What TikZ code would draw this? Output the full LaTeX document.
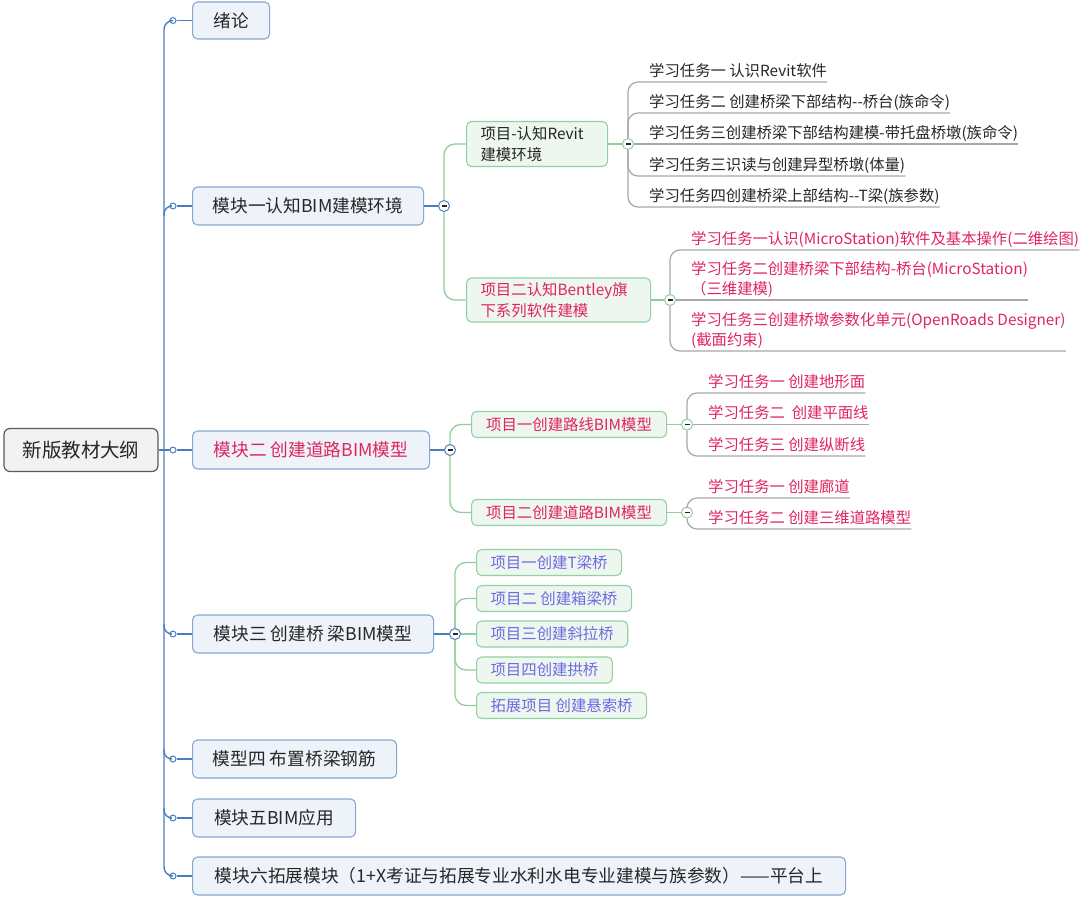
\documentclass[tikz,border=0pt]{standalone}
\usepackage{fontspec}
\setmainfont{Noto Sans CJK SC}
\usepackage{xcolor}
\usetikzlibrary{positioning,calc}

\definecolor{trunkblue}{HTML}{4A7EC0}
\definecolor{modedge}{HTML}{86A9D4}
\definecolor{modfill}{HTML}{EEF3FA}
\definecolor{projedge}{HTML}{95D0A3}
\definecolor{projfill}{HTML}{EEF6F0}
\definecolor{branchgreen}{HTML}{8FCE9E}
\definecolor{leafgray}{HTML}{A8A8A8}
\definecolor{rootedge}{HTML}{5A5A5A}
\definecolor{rootfill}{HTML}{F2F2F2}
\definecolor{inkdark}{HTML}{262626}
\definecolor{inkred}{HTML}{E0255E}
\definecolor{inkpurple}{HTML}{6B6BE0}

\tikzset{
  rootbox/.style={draw=rootedge, fill=rootfill, rounded corners=6pt, line width=1.2pt,
    minimum width=154pt, minimum height=43pt, text=inkdark, font=\fontsize{19.5}{22}\selectfont},
  modbox/.style={draw=modedge, fill=modfill, rounded corners=5pt, line width=1.1pt,
    minimum height=38pt, inner xsep=20pt, anchor=west, text=inkdark, font=\fontsize{17.7}{20}\selectfont},
  projbox/.style={draw=projedge, fill=projfill, rounded corners=5pt, line width=1.1pt,
    minimum height=26pt, inner xsep=14pt, anchor=west, align=left, text=inkdark, font=\fontsize{15.4}{21}\selectfont},
  task/.style={anchor=south west, inner xsep=0pt, inner ysep=2pt, text depth=3.5pt,
    align=left, text=inkdark, font=\fontsize{15.35}{20}\selectfont},
  knob/.style={circle, draw=trunkblue, fill=white, line width=1pt, inner sep=0pt, minimum size=6pt},
  fold/.style={circle, draw=#1, fill=white, line width=1pt, inner sep=0pt, minimum size=11pt,
    path picture={\draw[line width=1.3pt, inkdark] ([xshift=-2.5pt]path picture bounding box.center)
      -- ([xshift=2.5pt]path picture bounding box.center);}},
  trunk/.style={draw=trunkblue, line width=1.4pt},
  twig/.style={draw=branchgreen, line width=1.3pt, rounded corners=11pt},
  leaf/.style={draw=leafgray, line width=1.2pt, rounded corners=10pt},
}

\begin{document}
\begin{tikzpicture}[x=1pt, y=-1pt]
    \fill[white] (0,0) rectangle (1081,899);
    \useasboundingbox (0,0) rectangle (1081,899);

    % root and modules
    \node[rootbox] (root) at (81,450) {新版教材大纲};
    \coordinate (tk) at (164,0);

    \node[modbox, minimum width=77pt, minimum height=37pt] (m0) at (192,20.5) {绪论};
    \node[modbox, minimum width=231pt] (m1) at (192,206) {模块一认知BIM建模环境};
    \node[modbox, minimum width=237pt, text=inkred] (m2) at (192,450) {模块二 创建道路BIM模型};
    \node[modbox, minimum width=241pt] (m3) at (192,634) {模块三 创建桥 梁BIM模型};
    \node[modbox, minimum width=204pt] (m4) at (192,759) {模型四 布置桥梁钢筋};
    \node[modbox, minimum width=163pt] (m5) at (192,818) {模块五BIM应用};
    \node[modbox, minimum width=653pt] (m6) at (192,876) {模块六拓展模块（1+X考证与拓展专业水利水电专业建模与族参数）——平台上};

    \node[knob] (d0) at (173,20.5) {};
    \node[knob] (d1) at (173,206) {};
    \node[knob] (d2) at (173,450) {};
    \node[knob] (d3) at (173,634) {};
    \node[knob] (d4) at (173,759) {};
    \node[knob] (d5) at (173,818) {};
    \node[knob] (d6) at (173,876) {};

    \node[fold=trunkblue] (f1) at (444,206) {};
    \node[fold=trunkblue] (f2) at (450,450) {};
    \node[fold=trunkblue] (f3) at (455,634) {};

    % projects
    \node[projbox, text width=113pt, minimum height=45pt] (p11) at (466,144) {项目-认知Revit\\建模环境};
    \node[projbox, text width=156pt, minimum height=44pt, text=inkred] (p12) at (466,300) {项目二认知Bentley旗\\下系列软件建模};
    \node[projbox, minimum width=195pt, text=inkred] (p21) at (471,424.5) {项目一创建路线BIM模型};
    \node[projbox, minimum width=195pt, text=inkred] (p22) at (471,512.5) {项目二创建道路BIM模型};
    \node[projbox, minimum width=144pt, text=inkpurple] (p31) at (476,562.5) {项目一创建T梁桥};
    \node[projbox, minimum width=155pt, text=inkpurple] (p32) at (476,598.5) {项目二 创建箱梁桥};
    \node[projbox, minimum width=150pt, text=inkpurple] (p33) at (476,634) {项目三创建斜拉桥};
    \node[projbox, minimum width=135pt, text=inkpurple] (p34) at (476,670) {项目四创建拱桥};
    \node[projbox, minimum width=170pt, text=inkpurple] (p35) at (476,705.5) {拓展项目 创建悬索桥};

    \node[fold=branchgreen] (f11) at (628,144) {};
    \node[fold=branchgreen] (f12) at (670,300) {};
    \node[fold=branchgreen] (f21) at (687,424.5) {};
    \node[fold=branchgreen] (f22) at (687,512.5) {};

    % tasks
    \node[task] (t11a) at (649,82) {学习任务一 认识Revit软件};
    \node[task] (t11b) at (649,113) {学习任务二 创建桥梁下部结构-{}-桥台(族命令)};
    \node[task] (t11c) at (649,144) {学习任务三创建桥梁下部结构建模-带托盘桥墩(族命令)};
    \node[task] (t11d) at (649,176) {学习任务三识读与创建异型桥墩(体量)};
    \node[task] (t11e) at (649,207) {学习任务四创建桥梁上部结构-{}-T梁(族参数)};

    \node[task, text=inkred] (t12a) at (691,250) {学习任务一认识(MicroStation)软件及基本操作(二维绘图)};
    \node[task, text=inkred] (t12b) at (691,300) {学习任务二创建桥梁下部结构-桥台(MicroStation)\\（三维建模)};
    \node[task, text=inkred] (t12c) at (691,351) {学习任务三创建桥墩参数化单元(OpenRoads Designer)\\(截面约束)};

    \node[task, text=inkred] (t21a) at (708,393) {学习任务一 创建地形面};
    \node[task, text=inkred] (t21b) at (708,424.5) {学习任务二\ \ 创建平面线};
    \node[task, text=inkred] (t21c) at (708,456) {学习任务三 创建纵断线};
    \node[task, text=inkred] (t22a) at (708,498) {学习任务一 创建廊道};
    \node[task, text=inkred] (t22b) at (708,529) {学习任务二 创建三维道路模型};

    % trunk
    \draw[trunk, rounded corners=9pt] (d0) -| (tk |- d6) -- (d6);
    \draw[trunk, rounded corners=8pt] (d1) -| ($(tk |- d1)+(0,10)$);
    \draw[trunk, rounded corners=8pt] (d3) -| ($(tk |- d3)+(0,-10)$);
    \draw[trunk, rounded corners=8pt] (d4) -| ($(tk |- d4)+(0,-10)$);
    \draw[trunk, rounded corners=8pt] (d5) -| ($(tk |- d5)+(0,-10)$);
    \draw[trunk] (root) -- (d2);
    \foreach \i in {0,...,6} {
        \draw[trunk] (d\i) -- (m\i);
    }
    \draw[trunk] (m1) -- (f1);
    \draw[trunk] (m2) -- (f2);
    \draw[trunk] (m3) -- (f3);

    % module -> project
    \draw[twig] (f1) |- (p11);
    \draw[twig] (f1) |- (p12);
    \draw[twig] (f2) |- (p21);
    \draw[twig] (f2) |- (p22);
    \draw[twig] (f3) |- (p31);
    \draw[twig] (f3) |- (p32);
    \draw[twig] (f3) -- (p33);
    \draw[twig] (f3) |- (p34);
    \draw[twig] (f3) |- (p35);
    \draw[twig] (p11) -- (f11);
    \draw[twig] (p12) -- (f12);
    \draw[twig] (p21) -- (f21);
    \draw[twig] (p22) -- (f22);

    % project -> task
    \foreach \t in {a,b,d,e} {
        \draw[leaf] (f11) |- (t11\t.south west) -- (t11\t.south east);
    }
    \draw[leaf] (f11) -- (t11c.south east);
    \draw[leaf] (f12) |- (t12a.south west) -- (t12a.south east);
    \draw[leaf] (f12) -- (t12b.south east);
    \draw[leaf] (f12) |- (t12c.south west) -- (t12c.south east);
    \foreach \t in {a,c} {
        \draw[leaf] (f21) |- (t21\t.south west) -- (t21\t.south east);
    }
    \draw[leaf] (f21) -- (t21b.south east);
    \draw[leaf] (f22) |- (t22a.south west) -- (t22a.south east);
    \draw[leaf] (f22) |- (t22b.south west) -- (t22b.south east);
\end{tikzpicture}
\end{document}
